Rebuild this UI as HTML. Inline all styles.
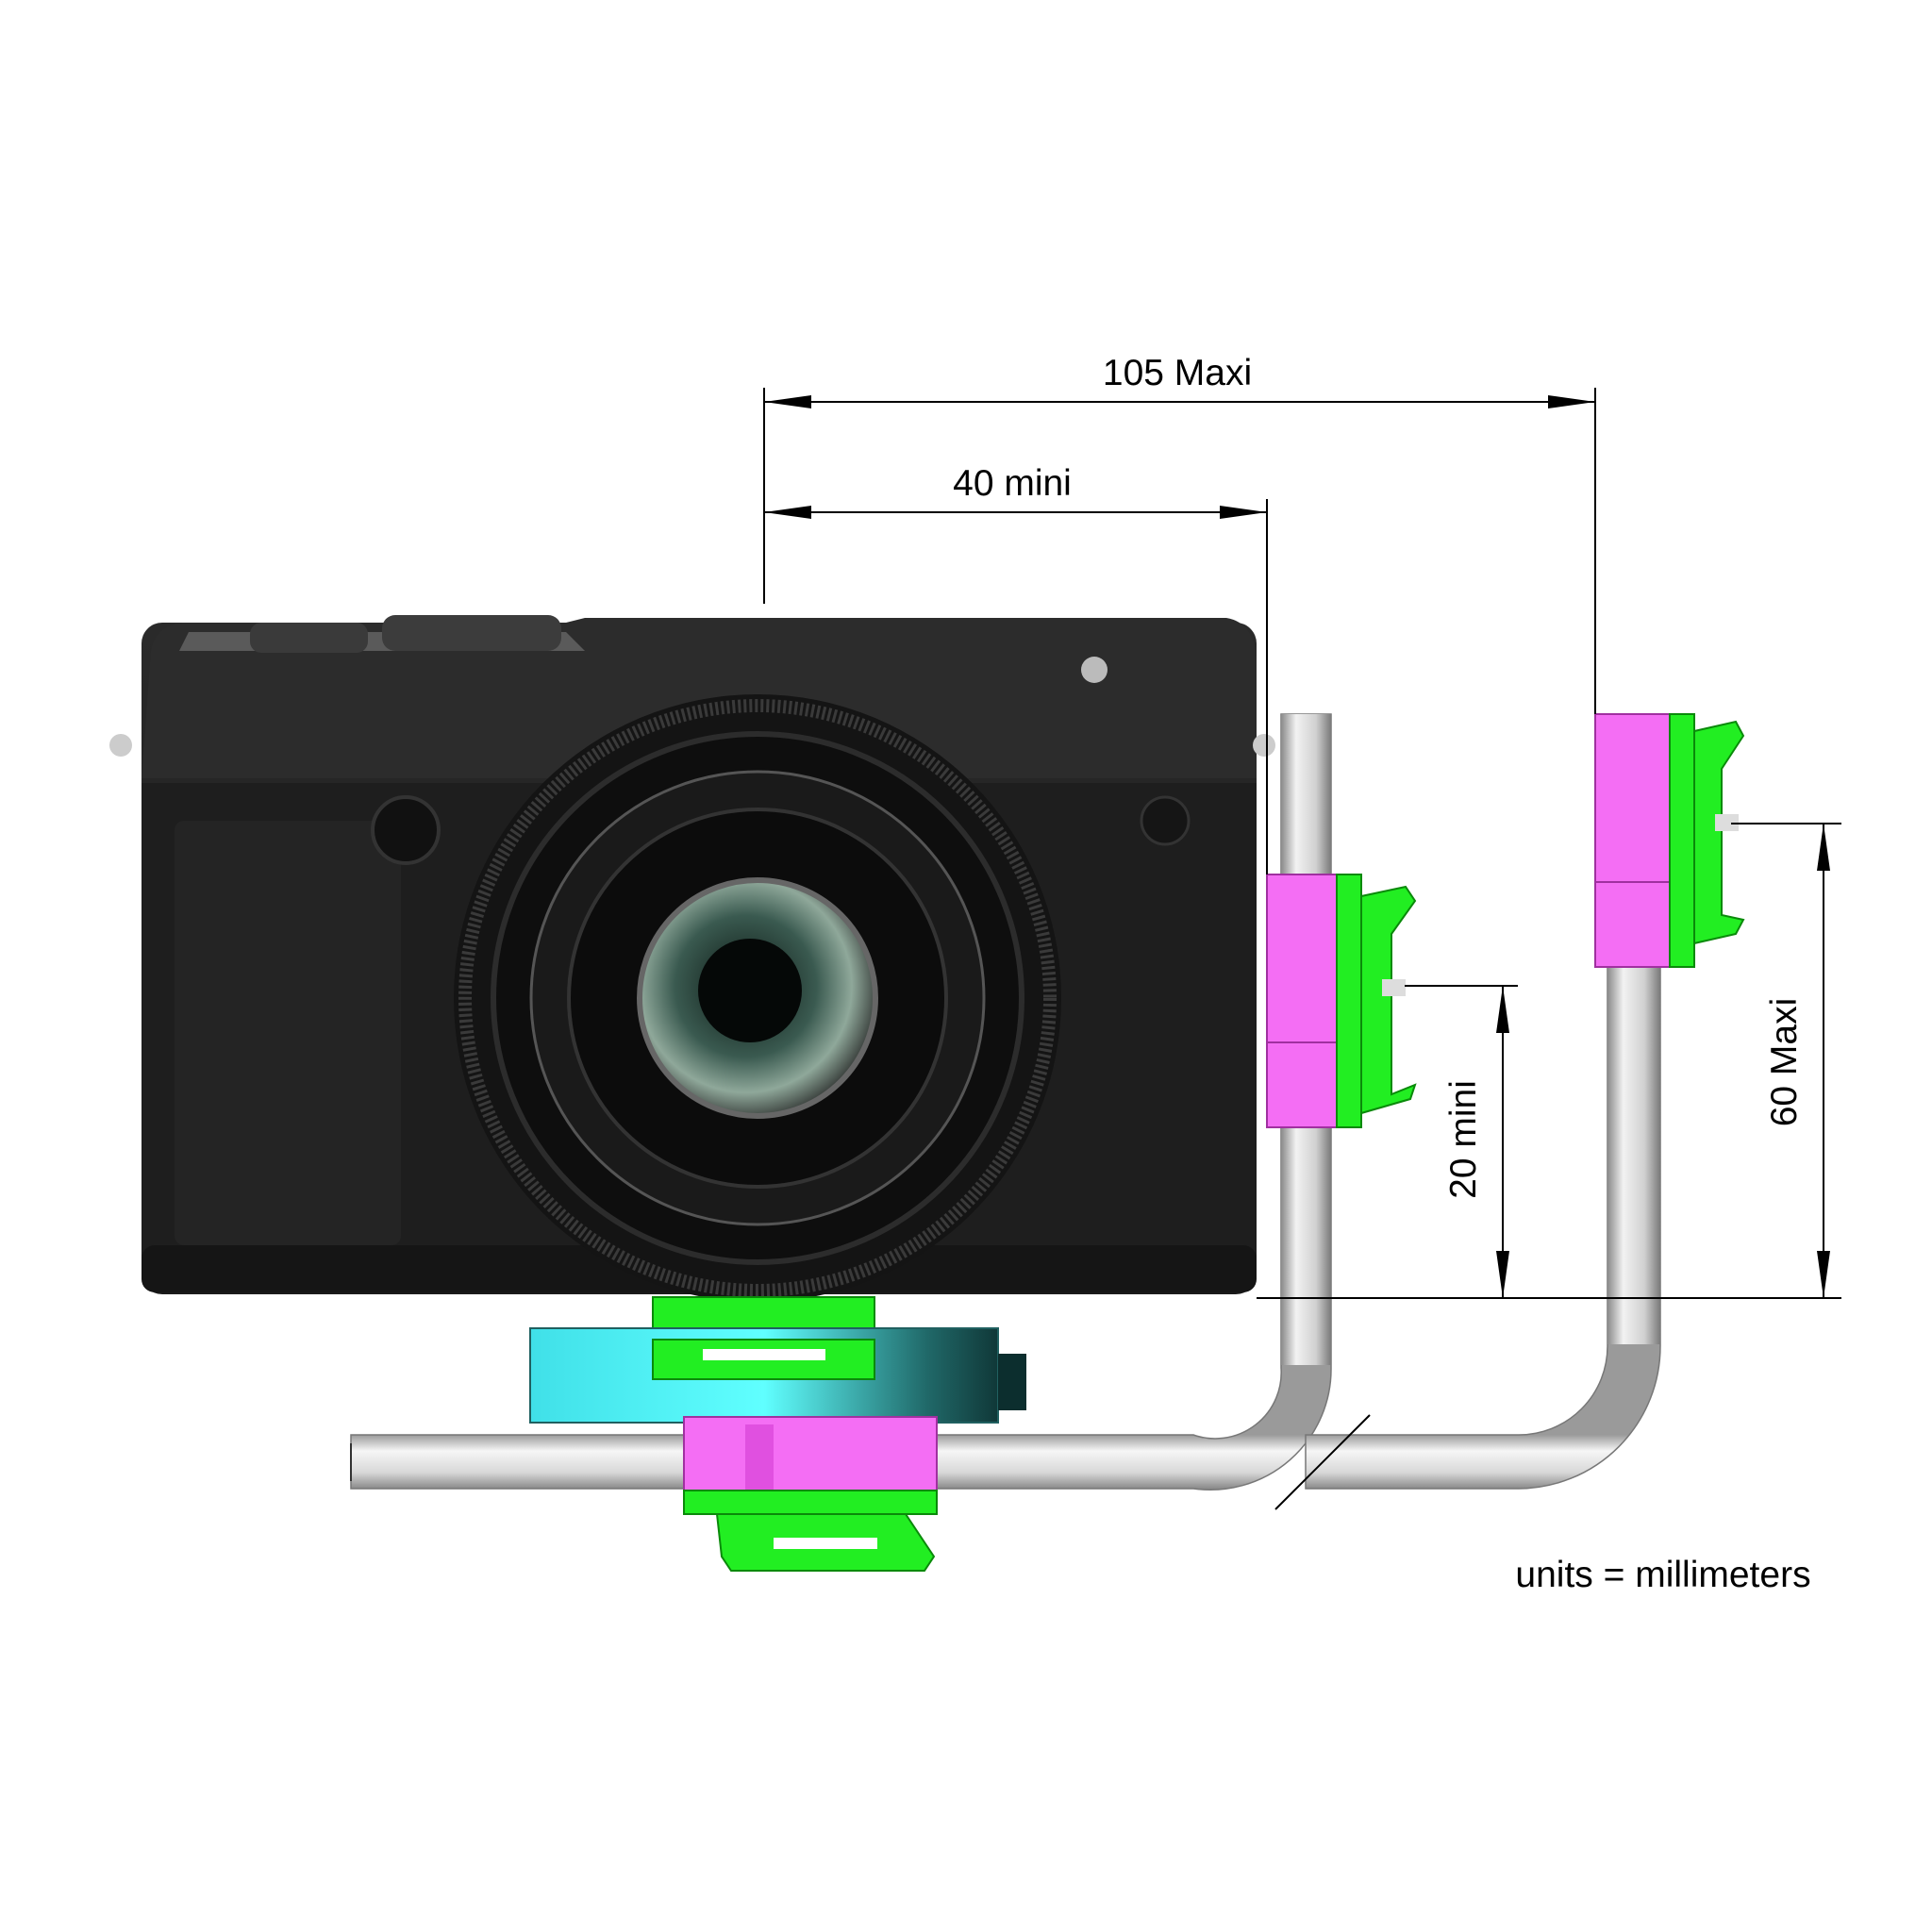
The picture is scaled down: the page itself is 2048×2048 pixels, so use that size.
<!DOCTYPE html>
<html><head><meta charset="utf-8"><style>
html,body{margin:0;padding:0;background:#fff;}
svg{display:block}
text{font-family:"Liberation Sans",Arial,sans-serif;fill:#000}
</style></head><body>
<svg width="2048" height="2048" viewBox="0 0 2048 2048" xmlns="http://www.w3.org/2000/svg">
<defs>
<linearGradient id="rodH" gradientUnits="userSpaceOnUse" x1="0" y1="1521" x2="0" y2="1578"><stop offset="0" stop-color="#9a9a9a"/><stop offset="0.3" stop-color="#f6f6f6"/><stop offset="0.7" stop-color="#d8d8d8"/><stop offset="1" stop-color="#8a8a8a"/></linearGradient>
<linearGradient id="rodV" x1="0" y1="0" x2="1" y2="0"><stop offset="0" stop-color="#8a8a8a"/><stop offset="0.3" stop-color="#f2f2f2"/><stop offset="0.7" stop-color="#d0d0d0"/><stop offset="1" stop-color="#7a7a7a"/></linearGradient>
<linearGradient id="cyan" x1="0" y1="0" x2="1" y2="0"><stop offset="0" stop-color="#40e0e8"/><stop offset="0.5" stop-color="#60ffff"/><stop offset="0.85" stop-color="#206868"/><stop offset="1" stop-color="#103838"/></linearGradient>
<linearGradient id="body" x1="0" y1="0" x2="0" y2="1"><stop offset="0" stop-color="#2a2a2a"/><stop offset="1" stop-color="#1a1a1a"/></linearGradient>
<radialGradient id="glass" cx="0.45" cy="0.45" r="0.6"><stop offset="0" stop-color="#0a1410"/><stop offset="0.5" stop-color="#3a5a50"/><stop offset="0.75" stop-color="#8fa89a"/><stop offset="1" stop-color="#202020"/></radialGradient>
</defs>

<!-- Rods -->
<path d="M372 1521 H1265 A70 70 0 0 0 1358 1450 V757 H1411 V1450 A128 128 0 0 1 1265 1578 H372 Z" fill="url(#rodH)" stroke="#777" stroke-width="1.5"/>
<rect x="1358" y="757" width="53" height="690" fill="url(#rodV)"/>
<path d="M1384 1521 H1610 A94 94 0 0 0 1704 1427 V1025 H1760 V1427 A151 151 0 0 1 1610 1578 H1384 Z" fill="url(#rodH)" stroke="#777" stroke-width="1.5"/>
<rect x="1704" y="1025" width="56" height="400" fill="url(#rodV)"/>
<line x1="1352" y1="1600" x2="1452" y2="1500" stroke="#000" stroke-width="2"/>
<line x1="372" y1="1530" x2="372" y2="1570" stroke="#333" stroke-width="2"/>

<!-- Camera body -->
<rect x="150" y="660" width="1182" height="712" rx="22" fill="url(#body)"/>
<rect x="150" y="830" width="1182" height="500" fill="#1e1e1e"/>
<path d="M160 690 Q165 660 200 660 H600 L620 655 H1300 Q1330 660 1332 700 V825 H150 Z" fill="#2c2c2c"/>
<path d="M190 690 L200 670 H600 L620 690 Z" fill="#5a5a5a"/>
<rect x="265" y="660" width="125" height="32" rx="12" fill="#3a3a3a"/>
<rect x="405" y="652" width="190" height="38" rx="14" fill="#3c3c3c"/>
<rect x="150" y="1320" width="1182" height="50" rx="14" fill="#151515"/>
<rect x="185" y="870" width="240" height="450" rx="10" fill="#242424"/>
<circle cx="430" cy="880" r="35" fill="#111" stroke="#333" stroke-width="4"/>
<circle cx="1160" cy="710" r="14" fill="#bbb"/>
<circle cx="1235" cy="870" r="25" fill="#151515" stroke="#333" stroke-width="3"/>
<circle cx="128" cy="790" r="12" fill="#ccc"/>
<circle cx="1340" cy="790" r="12" fill="#ccc"/>

<!-- Lens -->
<circle cx="803" cy="1058" r="322" fill="#141414"/>
<circle cx="803" cy="1058" r="310" fill="none" stroke="#3a3a3a" stroke-width="14" stroke-dasharray="3 3"/>
<circle cx="803" cy="1058" r="280" fill="#0e0e0e" stroke="#2c2c2c" stroke-width="6"/>
<circle cx="803" cy="1058" r="240" fill="#1a1a1a" stroke="#555" stroke-width="3"/>
<circle cx="803" cy="1058" r="200" fill="#0c0c0c" stroke="#333" stroke-width="4"/>
<circle cx="803" cy="1058" r="125" fill="url(#glass)" stroke="#666" stroke-width="6"/>
<circle cx="795" cy="1050" r="55" fill="#050807"/>

<!-- Bottom mount -->
<rect x="692" y="1375" width="235" height="88" fill="#22ee22" stroke="#0a8a0a" stroke-width="2"/>
<path d="M562 1408 H1058 V1508 H562 Z" fill="url(#cyan)" stroke="#206060" stroke-width="2"/>
<rect x="1058" y="1435" width="30" height="60" fill="#0c2e2e"/>
<path d="M692 1420 H927 V1462 H692 Z" fill="#22ee22" stroke="#0a8a0a" stroke-width="2"/>
<rect x="745" y="1430" width="130" height="12" fill="#fff"/>
<rect x="725" y="1502" width="268" height="85" fill="#f46ef4" stroke="#a030a0" stroke-width="2"/>
<rect x="790" y="1510" width="30" height="72" fill="#e050e0"/>
<rect x="725" y="1580" width="268" height="25" fill="#22ee22" stroke="#0a8a0a" stroke-width="2"/>
<path d="M760 1605 H960 L990 1650 L980 1665 H775 L765 1650 Z" fill="#22ee22" stroke="#0a8a0a" stroke-width="2"/>
<rect x="820" y="1630" width="110" height="12" fill="#fff"/>

<!-- Left clamp -->
<rect x="1343" y="927" width="74" height="268" fill="#f46ef4" stroke="#a030a0" stroke-width="2"/>
<line x1="1343" y1="1105" x2="1417" y2="1105" stroke="#a030a0" stroke-width="2"/>
<rect x="1417" y="927" width="26" height="268" fill="#22ee22" stroke="#0a8a0a" stroke-width="2"/>
<path d="M1443 950 L1490 940 L1500 955 L1475 990 V1160 L1500 1150 L1495 1165 L1443 1180 Z" fill="#22ee22" stroke="#0a8a0a" stroke-width="2"/>
<rect x="1465" y="1038" width="25" height="18" fill="#ddd"/>
<!-- Right clamp -->
<rect x="1691" y="757" width="79" height="268" fill="#f46ef4" stroke="#a030a0" stroke-width="2"/>
<line x1="1691" y1="935" x2="1770" y2="935" stroke="#a030a0" stroke-width="2"/>
<rect x="1770" y="757" width="26" height="268" fill="#22ee22" stroke="#0a8a0a" stroke-width="2"/>
<path d="M1796 775 L1840 765 L1848 780 L1825 815 V970 L1848 975 L1840 990 L1796 1000 Z" fill="#22ee22" stroke="#0a8a0a" stroke-width="2"/>
<rect x="1818" y="863" width="25" height="18" fill="#ddd"/>

<!-- Dimensions -->
<g stroke="#000" stroke-width="2" fill="none">
<line x1="810" y1="411" x2="810" y2="640"/>
<line x1="1343" y1="529" x2="1343" y2="927"/>
<line x1="1691" y1="411" x2="1691" y2="757"/>
<line x1="810" y1="426" x2="1691" y2="426"/>
<line x1="810" y1="543" x2="1343" y2="543"/>
<line x1="1332" y1="1376" x2="1952" y2="1376"/>
<line x1="1489" y1="1045" x2="1609" y2="1045"/>
<line x1="1593" y1="1045" x2="1593" y2="1376"/>
<line x1="1835" y1="873" x2="1952" y2="873"/>
<line x1="1933" y1="873" x2="1933" y2="1376"/>
</g>
<g fill="#000">
<path d="M810 426 L860 419 L860 433 Z"/><path d="M1691 426 L1641 419 L1641 433 Z"/>
<path d="M810 543 L860 536 L860 550 Z"/><path d="M1343 543 L1293 536 L1293 550 Z"/>
<path d="M1593 1045 L1586 1095 L1600 1095 Z"/><path d="M1593 1376 L1586 1326 L1600 1326 Z"/>
<path d="M1933 873 L1926 923 L1940 923 Z"/><path d="M1933 1376 L1926 1326 L1940 1326 Z"/>
</g>
<text x="1248" y="408" font-size="39" text-anchor="middle">105 Maxi</text>
<text x="1073" y="525" font-size="39" text-anchor="middle">40 mini</text>
<text transform="translate(1564,1208) rotate(-90)" font-size="39" text-anchor="middle">20 mini</text>
<text transform="translate(1904,1126) rotate(-90)" font-size="39" text-anchor="middle">60 Maxi</text>
<text x="1763" y="1682" font-size="39" text-anchor="middle">units = millimeters</text>
</svg>
</body></html>
